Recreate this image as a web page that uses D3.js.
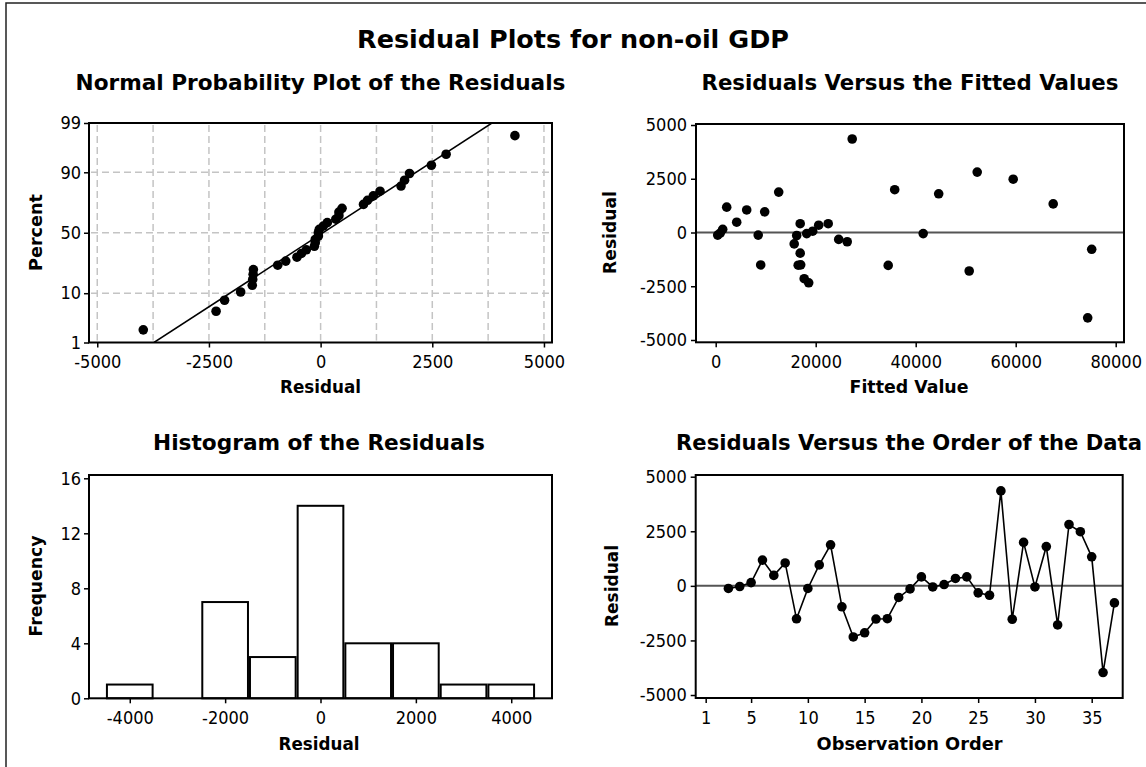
<!DOCTYPE html>
<html lang="en">
<head>
	<meta charset="UTF-8">
	<title>Residual Plots for non-oil GDP</title>
	<script src="https://cdn.jsdelivr.net/npm/d3@7"></script>
	<style>
		body { margin: 0; background: #fff; }
	</style>
</head>
<body>
	<div id="vis"></div>

	<script>
		// observation numbers (1 and 2 are not in the fit)
		var observations = [3, 4, 5, 6, 7, 8, 9, 10, 11, 12, 13, 14, 15, 16, 17, 18, 19, 20,
			21, 22, 23, 24, 25, 26, 27, 28, 29, 30, 31, 32, 33, 34, 35, 36, 37];
		var residuals = [-120, -30, 150, 1180, 480, 1050, -1510, -120, 960, 1880, -960, -2340, -2150, -1520, -1505, -530, -140, 410,
			-50, 60, 340, 410, -320, -430, 4350, -1530, 1990, -50, 1800, -1790, 2810, 2480, 1330, -3970, -780];
		var fittedValues = [400, 900, 1400, 2200, 4200, 6200, 9000, 8500, 9800, 12600, 16900, 18600, 17700, 16500, 17000, 15700, 16200, 16900,
			18200, 19400, 20600, 22500, 24600, 26300, 27300, 34500, 35800, 41500, 44600, 50700, 52300, 59500, 67500, 74400, 75200];

		// histogram bins (midpoints) and the bar heights
		var binMids = [-4000, -3000, -2000, -1000, 0, 1000, 2000, 3000, 4000];
		var binCounts = [1, 0, 7, 3, 14, 4, 4, 1, 1];

		// tick labels
		var percentTicks = [1, 10, 50, 90, 99];
		var percentGrid = [10, 50, 90];
		var normTicks = [-5000, -2500, 0, 2500, 5000];
		var normGrid = [-5000, -3750, -2500, -1250, 0, 1250, 2500, 3750, 5000];
		var residTicks = [-5000, -2500, 0, 2500, 5000];
		var fittedTicks = [0, 20000, 40000, 60000, 80000];
		var histXTicks = [-4000, -2000, 0, 2000, 4000];
		var freqTicks = [0, 4, 8, 12, 16];
		var orderTicks = [1, 5, 10, 15, 20, 25, 30, 35];

		var width = 1146;
		var height = 767;
		var tickFont = "'DejaVu Sans Condensed', 'DejaVu Sans', sans-serif";
		var boldFont = "'DejaVu Sans', Verdana, sans-serif";
		var plain = function(d) { return String(d); };   // keeps the ascii hyphen
		var dotR = 4.8;

		var svg = d3.select("#vis").append("svg")
				.attr("width", width)
				.attr("height", height);

		// inverse normal cdf (Acklam)
		function qnorm(p) {
			var a = [-3.969683028665376e+01, 2.209460984245205e+02, -2.759285104469687e+02, 1.383577518672690e+02, -3.066479806614716e+01, 2.506628277459239e+00];
			var b = [-5.447609879822406e+01, 1.615858368580409e+02, -1.556989798598866e+02, 6.680131188771972e+01, -1.328068155288572e+01];
			var c = [-7.784894002430293e-03, -3.223964580411365e-01, -2.400758277161838e+00, -2.549732539343734e+00, 4.374664141464968e+00, 2.938163982698783e+00];
			var d = [7.784695709041462e-03, 3.224671290700398e-01, 2.445134137142996e+00, 3.754408661907416e+00];
			var plow = 0.02425, q, r;
			if (p < plow) {
				q = Math.sqrt(-2 * Math.log(p));
				return (((((c[0]*q+c[1])*q+c[2])*q+c[3])*q+c[4])*q+c[5]) / ((((d[0]*q+d[1])*q+d[2])*q+d[3])*q+1);
			}
			if (p > 1 - plow) {
				q = Math.sqrt(-2 * Math.log(1 - p));
				return -(((((c[0]*q+c[1])*q+c[2])*q+c[3])*q+c[4])*q+c[5]) / ((((d[0]*q+d[1])*q+d[2])*q+d[3])*q+1);
			}
			q = p - 0.5; r = q * q;
			return (((((a[0]*r+a[1])*r+a[2])*r+a[3])*r+a[4])*r+a[5])*q / (((((b[0]*r+b[1])*r+b[2])*r+b[3])*r+b[4])*r+1);
		}

		// shrink/grow a text so it takes the given width
		function fitText(t, w) {
			var len = t.node().getComputedTextLength();
			var fs = parseFloat(t.attr("font-size"));
			t.attr("font-size", (fs * w / len).toFixed(2));
			return t;
		}

		function styleAxis(g) {
			g.select(".domain").remove();
			g.selectAll(".tick line").attr("stroke", "#000").attr("stroke-width", 1.5);
			g.selectAll(".tick text")
				.attr("fill", "#000")
				.attr("font-family", tickFont)
				.attr("font-size", 18);
		}

		function addTitle(text, cx, y, w, size) {
			var t = svg.append("text")
				.attr("x", cx)
				.attr("y", y)
				.attr("text-anchor", "middle")
				.attr("font-family", boldFont)
				.attr("font-weight", "bold")
				.attr("font-size", size)
				.text(text);
			return fitText(t, w);
		}

		function addYTitle(text, x, cy, w) {
			var t = svg.append("text")
				.attr("transform", "translate(" + x + "," + cy + ") rotate(-90)")
				.attr("text-anchor", "middle")
				.attr("font-family", boldFont)
				.attr("font-weight", "bold")
				.attr("font-size", 16)
				.text(text);
			return fitText(t, w);
		}

		function drawFrame(x0, x1, y0, y1) {
			svg.append("rect")
				.attr("x", x0).attr("y", y0)
				.attr("width", x1 - x0).attr("height", y1 - y0)
				.attr("fill", "none")
				.attr("stroke", "#000")
				.attr("stroke-width", 2);
		}

		// outer border of the graph window
		svg.append("rect")
			.attr("x", 6).attr("y", 3)
			.attr("width", 1200).attr("height", 800)
			.attr("fill", "none")
			.attr("stroke", "#222")
			.attr("stroke-width", 1.5);

		addTitle("Residual Plots for non-oil GDP", 573, 48, 432, 26);

		// ---------- normal probability plot ----------
		var p1 = {x0: 89, x1: 552, y0: 123, y1: 342.5};
		var xNorm = d3.scaleLinear().domain([-5185, 5180]).range([p1.x0, p1.x1]);
		var zScale = d3.scaleLinear().domain([qnorm(0.01), qnorm(0.99)]).range([p1.y1, p1.y0]);
		var pctScale = function(p) { return zScale(qnorm(p / 100)); };
		pctScale.copy = function() { return pctScale; };
		pctScale.range = function() { return zScale.range(); };
		pctScale.domain = function() { return [1, 99]; };

		svg.append("defs").append("clipPath").attr("id", "clip1")
			.append("rect")
			.attr("x", p1.x0).attr("y", p1.y0)
			.attr("width", p1.x1 - p1.x0).attr("height", p1.y1 - p1.y0);

		var grid = svg.append("g")
			.attr("stroke", "#c4c4c4")
			.attr("stroke-width", 1.5)
			.attr("stroke-dasharray", "7,4");
		grid.selectAll(".gv").data(normGrid).enter().append("line")
			.attr("x1", function(d) { return xNorm(d); })
			.attr("x2", function(d) { return xNorm(d); })
			.attr("y1", p1.y0 + 2).attr("y2", p1.y1 - 2);
		grid.selectAll(".gh").data(percentGrid).enter().append("line")
			.attr("y1", function(d) { return pctScale(d); })
			.attr("y2", function(d) { return pctScale(d); })
			.attr("x1", p1.x0 + 2).attr("x2", p1.x1 - 2);

		// fitted normal line from the mean and standard deviation
		var mu = d3.mean(residuals);
		var sd = d3.deviation(residuals);
		var zEnds = zScale.domain();
		svg.append("line")
			.attr("clip-path", "url(#clip1)")
			.attr("x1", xNorm(mu + sd * zEnds[0])).attr("y1", zScale(zEnds[0]))
			.attr("x2", xNorm(mu + sd * zEnds[1])).attr("y2", zScale(zEnds[1]))
			.attr("stroke", "#000")
			.attr("stroke-width", 1.5);

		var sorted = residuals.slice().sort(d3.ascending);
		var n = sorted.length;
		svg.append("g").selectAll("circle").data(sorted).enter().append("circle")
			.attr("cx", function(d) { return xNorm(d); })
			.attr("cy", function(d, i) { return pctScale(100 * (i + 1 - 0.3) / (n + 0.4)); })
			.attr("r", dotR)
			.attr("fill", "#000");

		svg.append("g")
			.attr("transform", "translate(0," + p1.y1 + ")")
			.call(d3.axisBottom(xNorm).tickValues(normTicks).tickFormat(plain).tickSize(5).tickPadding(8).tickSizeOuter(0))
			.call(styleAxis);
		svg.append("g")
			.attr("transform", "translate(" + p1.x0 + ",0)")
			.call(d3.axisLeft(pctScale).tickValues(percentTicks).tickFormat(plain).tickSize(5).tickPadding(3))
			.call(styleAxis);
		drawFrame(p1.x0, p1.x1, p1.y0, p1.y1);

		addTitle("Normal Probability Plot of the Residuals", 320.5, 90, 490, 20);
		addTitle("Residual", 320.5, 393, 81, 16);
		addYTitle("Percent", 42, 232.5, 77);

		// ---------- residuals versus fitted values ----------
		var p2 = {x0: 696, x1: 1124, y0: 124, y1: 342.3};
		var xFit = d3.scaleLinear().domain([-3940, 81660]).range([p2.x0, p2.x1]);
		var yFit = d3.scaleLinear().domain([-5107, 5047]).range([p2.y1, p2.y0]);

		svg.append("line")
			.attr("x1", p2.x0).attr("x2", p2.x1)
			.attr("y1", yFit(0)).attr("y2", yFit(0))
			.attr("stroke", "#555")
			.attr("stroke-width", 2);

		svg.append("g").selectAll("circle").data(residuals).enter().append("circle")
			.attr("cx", function(d, i) { return xFit(fittedValues[i]); })
			.attr("cy", function(d) { return yFit(d); })
			.attr("r", dotR)
			.attr("fill", "#000");

		svg.append("g")
			.attr("transform", "translate(0," + p2.y1 + ")")
			.call(d3.axisBottom(xFit).tickValues(fittedTicks).tickFormat(plain).tickSize(5).tickPadding(8).tickSizeOuter(0))
			.call(styleAxis);
		svg.append("g")
			.attr("transform", "translate(" + p2.x0 + ",0)")
			.call(d3.axisLeft(yFit).tickValues(residTicks).tickFormat(plain).tickSize(5).tickPadding(4))
			.call(styleAxis);
		drawFrame(p2.x0, p2.x1, p2.y0, p2.y1);

		addTitle("Residuals Versus the Fitted Values", 910, 90, 417, 20);
		addTitle("Fitted Value", 909, 393, 119, 16);
		addYTitle("Residual", 616, 232.5, 83);

		// ---------- histogram ----------
		var p3 = {x0: 89, x1: 552, y0: 475, y1: 698.3};
		var xHist = d3.scaleLinear().domain([-4855, 4855]).range([p3.x0, p3.x1]);
		var yHist = d3.scaleLinear().domain([0, 16.24]).range([p3.y1, p3.y0]);
		var bars = binMids.map(function(m, i) { return {mid: m, count: binCounts[i]}; })
			.filter(function(b) { return b.count > 0; });

		svg.append("g").selectAll("rect").data(bars).enter().append("rect")
			.attr("x", function(d) { return xHist(d.mid - 500) + 1; })
			.attr("width", function(d) { return xHist(d.mid + 500) - xHist(d.mid - 500) - 2; })
			.attr("y", function(d) { return yHist(d.count); })
			.attr("height", function(d) { return yHist(0) - yHist(d.count); })
			.attr("fill", "#fff")
			.attr("stroke", "#000")
			.attr("stroke-width", 2);

		svg.append("g")
			.attr("transform", "translate(0," + p3.y1 + ")")
			.call(d3.axisBottom(xHist).tickValues(histXTicks).tickFormat(plain).tickSize(5).tickPadding(8).tickSizeOuter(0))
			.call(styleAxis);
		svg.append("g")
			.attr("transform", "translate(" + p3.x0 + ",0)")
			.call(d3.axisLeft(yHist).tickValues(freqTicks).tickFormat(plain).tickSize(5).tickPadding(3))
			.call(styleAxis);
		drawFrame(p3.x0, p3.x1, p3.y0, p3.y1);

		addTitle("Histogram of the Residuals", 319, 450, 332, 20);
		addTitle("Residual", 319, 750, 81, 16);
		addYTitle("Frequency", 42, 586, 101);

		// ---------- residuals versus order ----------
		var p4 = {x0: 695.7, x1: 1122.7, y0: 475, y1: 698};
		var xOrd = d3.scaleLinear().domain([0.12, 37.73]).range([p4.x0, p4.x1]);
		var yOrd = d3.scaleLinear().domain([-5137, 5078]).range([p4.y1, p4.y0]);

		svg.append("line")
			.attr("x1", p4.x0).attr("x2", p4.x1)
			.attr("y1", yOrd(0)).attr("y2", yOrd(0))
			.attr("stroke", "#555")
			.attr("stroke-width", 2);

		var orderLine = d3.line()
			.x(function(d, i) { return xOrd(observations[i]); })
			.y(function(d) { return yOrd(d); });
		svg.append("path")
			.datum(residuals)
			.attr("d", orderLine)
			.attr("fill", "none")
			.attr("stroke", "#000")
			.attr("stroke-width", 1.6);

		svg.append("g").selectAll("circle").data(residuals).enter().append("circle")
			.attr("cx", function(d, i) { return xOrd(observations[i]); })
			.attr("cy", function(d) { return yOrd(d); })
			.attr("r", dotR)
			.attr("fill", "#000");

		svg.append("g")
			.attr("transform", "translate(0," + p4.y1 + ")")
			.call(d3.axisBottom(xOrd).tickValues(orderTicks).tickFormat(plain).tickSize(5).tickPadding(8).tickSizeOuter(0))
			.call(styleAxis);
		svg.append("g")
			.attr("transform", "translate(" + p4.x0 + ",0)")
			.call(d3.axisLeft(yOrd).tickValues(residTicks).tickFormat(plain).tickSize(5).tickPadding(4))
			.call(styleAxis);
		drawFrame(p4.x0, p4.x1, p4.y0, p4.y1);

		addTitle("Residuals Versus the Order of the Data", 909, 450, 466, 20);
		addTitle("Observation Order", 909.6, 750, 186, 16);
		addYTitle("Residual", 618, 586, 82);
	</script>
</body>
</html>
